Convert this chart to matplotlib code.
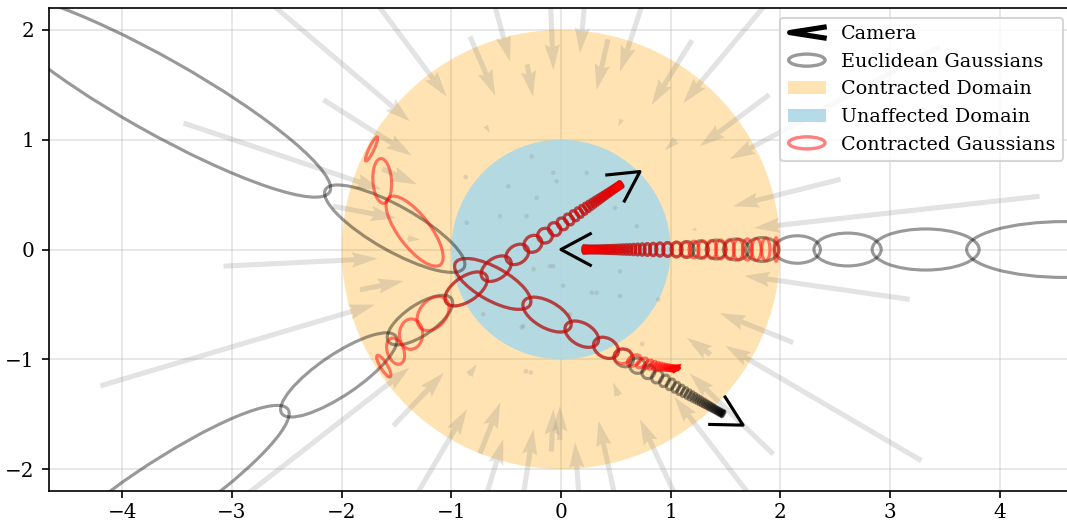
import numpy as np
import matplotlib
matplotlib.use("Agg")
import matplotlib.pyplot as plt
from matplotlib.patches import Ellipse, Circle, Patch
from matplotlib.lines import Line2D
from matplotlib.legend_handler import HandlerPatch, HandlerBase

plt.rcParams["font.family"] = ["DejaVu Serif"]
plt.rcParams["font.size"] = 9.6

# --- cameras: frustum apex, viewing direction (degrees), ray sampling ---
cam_x = [0.0, 0.72, 1.66]
cam_y = [0.0, 0.71, -1.60]
cam_angle_deg = [0.0, 214.0, 150.6]
ray_near = [0.2, 0.2, 0.2]
ray_far = [35.0, 21.0, 32.8]
ray_intervals = [62, 46, 48]
pixel_radius = 0.0525
base_radius = 0.006

# --- contraction field sample points ---
field_x = [-3.92, -2.31, -1.16, -0.83, -2.167, -3.443, -2.08, -0.118, 0.47, 1.08,
           0.428, 2.45, 1.196, 1.90, 2.55, 3.455, 4.366, -3.078, -1.834, -4.202,
           -1.529, -3.16, -1.64, -0.74, -1.50, -0.44, -0.088, 3.181, 2.118, 3.288,
           1.364, 1.936, 2.00, 1.43, 0.53, 0.305, -0.012, 0.524,
           -1.63, -0.309, -1.40, -0.84, -0.688, 0.553, 1.05, 1.236, -0.275, -0.87,
           0.74, -0.32,
           -0.267, 0.234, -0.04, -0.48, -0.222, -0.556, -0.86, -0.313, 0.492, 0.69,
           -0.07, 0.325, 0.538, -0.344, 0.887, -0.708, -0.358, -0.25, -0.07, -0.10,
           0.538, 0.28, 0.02, 0.08]
field_y = [3.32, 3.08, 4.27, 1.94, 1.364, 1.152, 0.394, 2.76, 4.88, 3.25,
           1.915, 2.93, 1.906, 1.41, 0.64, 1.848, 0.485, -0.152, -0.367, -1.242,
           -1.606, -2.46, -2.78, -1.86, -4.93, -2.87, -1.84, -0.4545, -0.848, -1.924,
           -0.956, -1.864, -2.60, -3.07, -2.42, -4.19, -1.736, -1.333,
           0.735, 1.687, 0.099, -1.145, 1.127, 1.186, 1.00, 0.185, -1.12, 0.66,
           -0.86, -1.11,
           0.848, 0.697, 0.62, 0.575, 0.47, 0.303, 0.243, 0.303, 0.379, 0.212,
           -0.152, -0.394, -0.424, -0.697, -0.455, -0.59, -0.71, -0.18, 0.70, -0.152,
           -0.197, -0.394, -0.33, -0.59]


def contract(p):
    p = np.asarray(p, dtype=float)
    r = np.linalg.norm(p, axis=-1, keepdims=True)
    rs = np.maximum(r, 1e-9)
    scale = np.where(r <= 1.0, 1.0, (2.0 - 1.0 / rs) / rs)
    return p * scale


def contract_jacobian(m):
    r = np.linalg.norm(m)
    if r <= 1.0:
        return np.eye(2)
    u = m / r
    radial = np.outer(u, u)
    return (2.0 * r - 1.0) / r ** 2 * (np.eye(2) - radial) + radial / r ** 2


def frustum_gaussian(origin, d, t0, t1, radius, base):
    t_mu = 0.5 * (t0 + t1)
    t_dl = 0.5 * (t1 - t0)
    denom = 3.0 * t_mu ** 2 + t_dl ** 2
    mean_t = t_mu + 2.0 * t_mu * t_dl ** 2 / denom
    t_var = t_dl ** 2 / 3.0 - (4.0 / 15.0) * (t_dl ** 4 * (12.0 * t_mu ** 2 - t_dl ** 2)) / denom ** 2
    r_var = radius ** 2 * (t_mu ** 2 / 4.0 + (5.0 / 12.0) * t_dl ** 2 - (4.0 / 15.0) * t_dl ** 4 / denom)
    r_std = np.sqrt(r_var) + base
    mean = origin + mean_t * d
    dd = np.outer(d, d)
    cov = t_var * dd + r_std ** 2 * (np.eye(2) - dd)
    return mean, cov


def cov_ellipse(mean, cov, n_std=2.0, **kw):
    vals, vecs = np.linalg.eigh(cov)
    vals = np.maximum(vals, 1e-12)
    ang = np.degrees(np.arctan2(vecs[1, 1], vecs[0, 1]))
    return Ellipse(mean, 2 * n_std * np.sqrt(vals[1]), 2 * n_std * np.sqrt(vals[0]),
                   angle=ang, **kw)


fig = plt.figure(figsize=(1067 / 150, 521 / 150), dpi=150)
ax = fig.add_axes([49 / 1067, 30 / 521, 1024 / 1067, 483 / 521])
ax.set_xlim(-4.67, 4.67)
ax.set_ylim(-2.2, 2.2)
ax.set_axisbelow(True)
ax.grid(True, color="#b0b0b0", alpha=0.35, lw=0.8)
ax.set_xticks([-4, -3, -2, -1, 0, 1, 2, 3, 4])
ax.set_yticks([-2, -1, 0, 1, 2])
ax.tick_params(axis="x", pad=2.5)

# domains
ax.add_patch(Circle((0, 0), 2.0, facecolor="orange", edgecolor="none", alpha=0.3, zorder=1))
ax.add_patch(Circle((0, 0), 1.0, facecolor="lightblue", edgecolor="none", alpha=0.9, zorder=1.1))

# contraction field
P = np.column_stack([field_x, field_y])
UV = contract(P) - P
ax.quiver(P[:, 0], P[:, 1], UV[:, 0], UV[:, 1], angles="xy", scale_units="xy", scale=1,
          width=0.005, color="gray", alpha=0.22, zorder=2)

# rays, Euclidean and contracted Gaussians
gray_kw = dict(facecolor="none", edgecolor="black", alpha=0.4, lw=1.5)
red_kw = dict(facecolor="none", edgecolor="red", alpha=0.5, lw=1.5)
for cx, cy, ang, near, far, n in zip(cam_x, cam_y, cam_angle_deg, ray_near, ray_far, ray_intervals):
    o = np.array([cx, cy])
    a = np.radians(ang)
    d = np.array([np.cos(a), np.sin(a)])
    nrm = np.array([-d[1], d[0]])
    t_edges = 1.0 / np.linspace(1.0 / near, 1.0 / far, n + 1)
    gauss = [frustum_gaussian(o, d, t_edges[i], t_edges[i + 1], pixel_radius, base_radius)
             for i in range(n)]
    for mean, cov in gauss:
        ax.add_patch(cov_ellipse(mean, cov, zorder=3, **gray_kw))
    for mean, cov in gauss:
        J = contract_jacobian(mean)
        ax.add_patch(cov_ellipse(contract(mean), J @ cov @ J.T, zorder=4, **red_kw))
    arm = 0.28 * d
    pts = np.array([o + arm + 0.15 * nrm, o, o + arm - 0.15 * nrm])
    ax.plot(pts[:, 0], pts[:, 1], color="black", lw=1.5, zorder=5, solid_capstyle="butt")


class HandlerEllipse(HandlerPatch):
    def create_artists(self, legend, orig_handle, xdescent, ydescent, width, height, fontsize, trans):
        center = (0.5 * width - xdescent, 0.5 * height - ydescent)
        p = Ellipse(center, width * 0.95, height * 0.9)
        self.update_prop(p, orig_handle, legend)
        p.set_transform(trans)
        return [p]


class HandlerCamera(HandlerBase):
    def create_artists(self, legend, orig_handle, xdescent, ydescent, width, height, fontsize, trans):
        x0, y0 = -xdescent, -ydescent
        line = Line2D([x0 + width * 0.95, x0 + width * 0.05, x0 + width * 0.95],
                      [y0 + height * 0.9, y0 + height * 0.5, y0 + height * 0.1],
                      color="black", lw=2.5, transform=trans)
        return [line]


cam_handle = Line2D([], [], color="black")
eu_handle = Ellipse((0, 0), 1, 1, facecolor="none", edgecolor="black", alpha=0.4, lw=1.6)
co_handle = Ellipse((0, 0), 1, 1, facecolor="none", edgecolor="red", alpha=0.5, lw=1.6)
orange_handle = Patch(facecolor="orange", alpha=0.3, edgecolor="none")
blue_handle = Patch(facecolor="lightblue", alpha=0.9, edgecolor="none")
ax.legend([cam_handle, eu_handle, orange_handle, blue_handle, co_handle],
          ["Camera", "Euclidean Gaussians", "Contracted Domain", "Unaffected Domain",
           "Contracted Gaussians"],
          loc="upper right", fontsize=9.2,
          handler_map={cam_handle: HandlerCamera(), Ellipse: HandlerEllipse()})

fig.savefig("out.png", dpi=150)
